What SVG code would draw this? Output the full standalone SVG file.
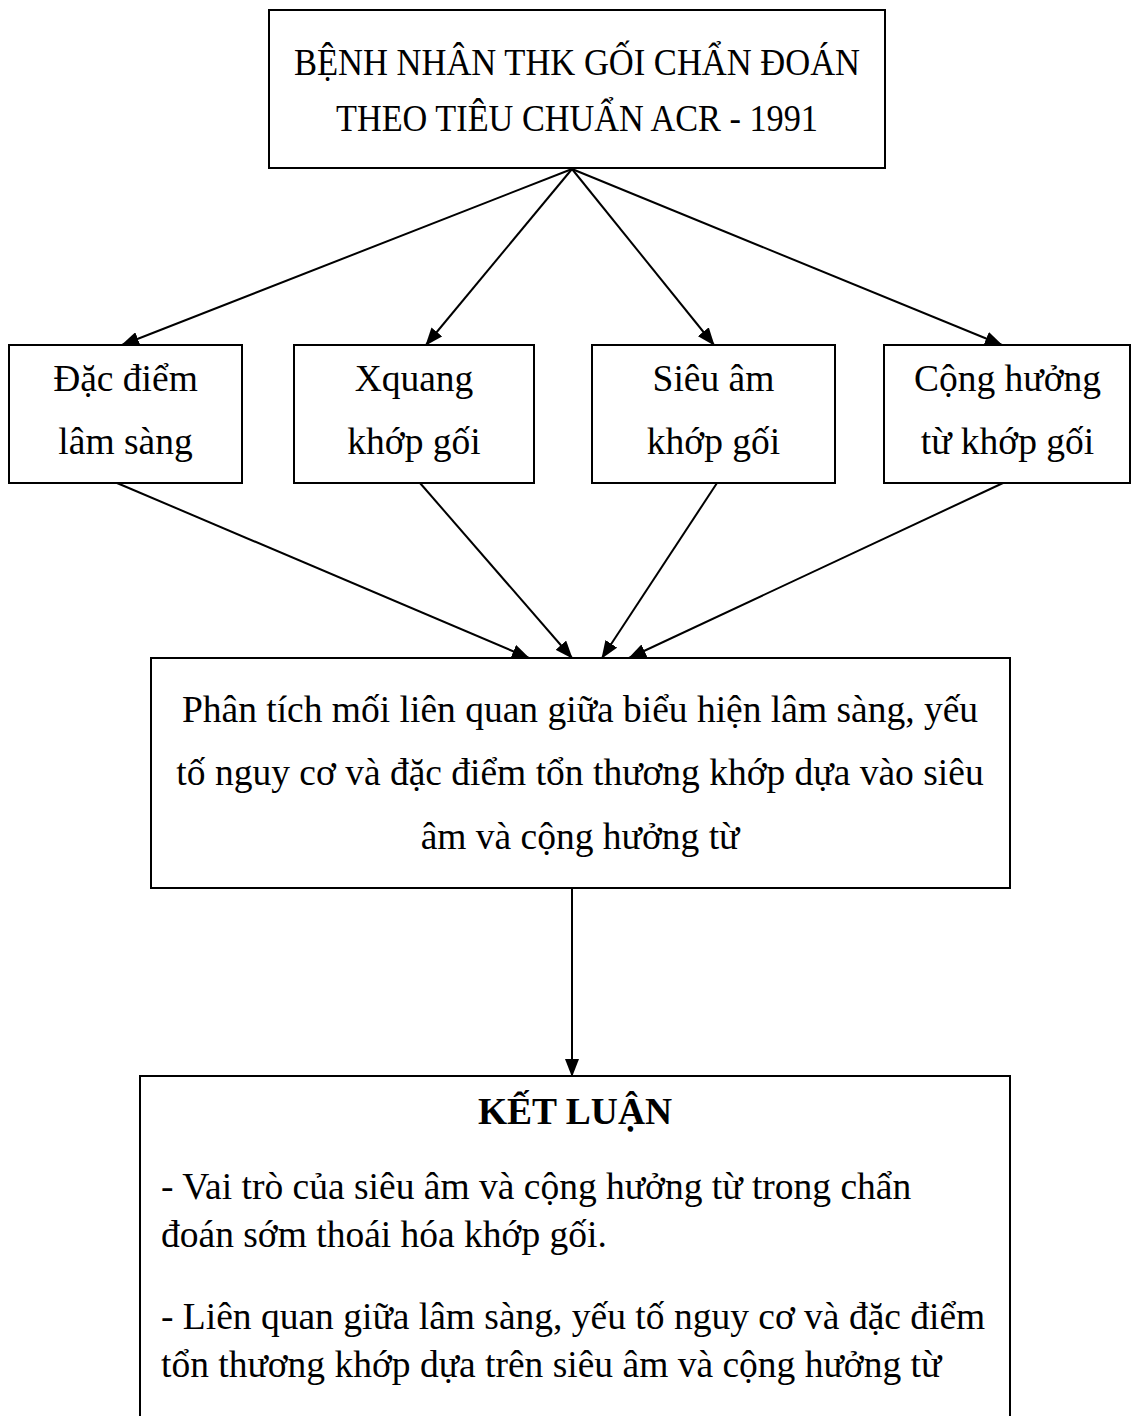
<svg xmlns="http://www.w3.org/2000/svg" width="1131" height="1416" viewBox="0 0 1131 1416">
<style>
.box{fill:#fff;stroke:#000;stroke-width:2}
.t{font-family:"Liberation Serif","Times New Roman",serif;font-size:37.5px;fill:#000}
.c{text-anchor:middle}
.b{font-weight:bold}
.ln{stroke:#000;stroke-width:2;fill:none;marker-end:url(#ah)}
</style>
<defs>
<marker id="ah" viewBox="0 0 18 14" refX="17" refY="7" markerWidth="18" markerHeight="14" markerUnits="userSpaceOnUse" orient="auto">
<path d="M0,0 L18,7 L0,14 z" fill="#000"/>
</marker>
</defs>
<rect width="1131" height="1416" fill="#fff"/>
<g id="connectors">
<line class="ln" x1="572" y1="169" x2="122" y2="345"/>
<line class="ln" x1="572" y1="169" x2="426" y2="345"/>
<line class="ln" x1="572" y1="169" x2="714" y2="345"/>
<line class="ln" x1="572" y1="169" x2="1002" y2="345"/>
<line class="ln" x1="117" y1="483" x2="529" y2="658"/>
<line class="ln" x1="420" y1="483" x2="572" y2="658"/>
<line class="ln" x1="717" y1="483" x2="602" y2="658"/>
<line class="ln" x1="1003" y1="483" x2="629" y2="658"/>
<line class="ln" x1="572" y1="888" x2="572" y2="1076"/>
</g>
<g id="n-top">
<rect class="box" x="269" y="10" width="616" height="158"/>
<text class="t c" x="577" y="75" textLength="566" lengthAdjust="spacingAndGlyphs">BỆNH NHÂN THK GỐI CHẨN ĐOÁN</text>
<text class="t c" x="577" y="131" textLength="482" lengthAdjust="spacingAndGlyphs">THEO TIÊU CHUẨN ACR - 1991</text>
</g>
<g id="n-lamsang">
<rect class="box" x="9" y="345" width="233" height="138"/>
<text class="t c" x="125.5" y="391">Đặc điểm</text>
<text class="t c" x="125.5" y="454">lâm sàng</text>
</g>
<g id="n-xquang">
<rect class="box" x="294" y="345" width="240" height="138"/>
<text class="t c" x="414" y="391">Xquang</text>
<text class="t c" x="414" y="454">khớp gối</text>
</g>
<g id="n-sieuam">
<rect class="box" x="592" y="345" width="243" height="138"/>
<text class="t c" x="713.5" y="391">Siêu âm</text>
<text class="t c" x="713.5" y="454">khớp gối</text>
</g>
<g id="n-cht">
<rect class="box" x="884" y="345" width="246" height="138"/>
<text class="t c" x="1007.5" y="391">Cộng hưởng</text>
<text class="t c" x="1007.5" y="454">từ khớp gối</text>
</g>
<g id="n-phantich">
<rect class="box" x="151" y="658" width="859" height="230"/>
<text class="t c" x="580" y="722">Phân tích mối liên quan giữa biểu hiện lâm sàng, yếu</text>
<text class="t c" x="580" y="785">tố nguy cơ và đặc điểm tổn thương khớp dựa vào siêu</text>
<text class="t c" x="580" y="849">âm và cộng hưởng từ</text>
</g>
<g id="n-ketluan">
<rect class="box" x="140" y="1076" width="870" height="380"/>
<text class="t c b" x="575" y="1124">KẾT LUẬN</text>
<text class="t" x="161" y="1199">- Vai trò của siêu âm và cộng hưởng từ trong chẩn</text>
<text class="t" x="161" y="1247">đoán sớm thoái hóa khớp gối.</text>
<text class="t" x="161" y="1329">- Liên quan giữa lâm sàng, yếu tố nguy cơ và đặc điểm</text>
<text class="t" x="161" y="1377">tổn thương khớp dựa trên siêu âm và cộng hưởng từ</text>
</g>
</svg>
